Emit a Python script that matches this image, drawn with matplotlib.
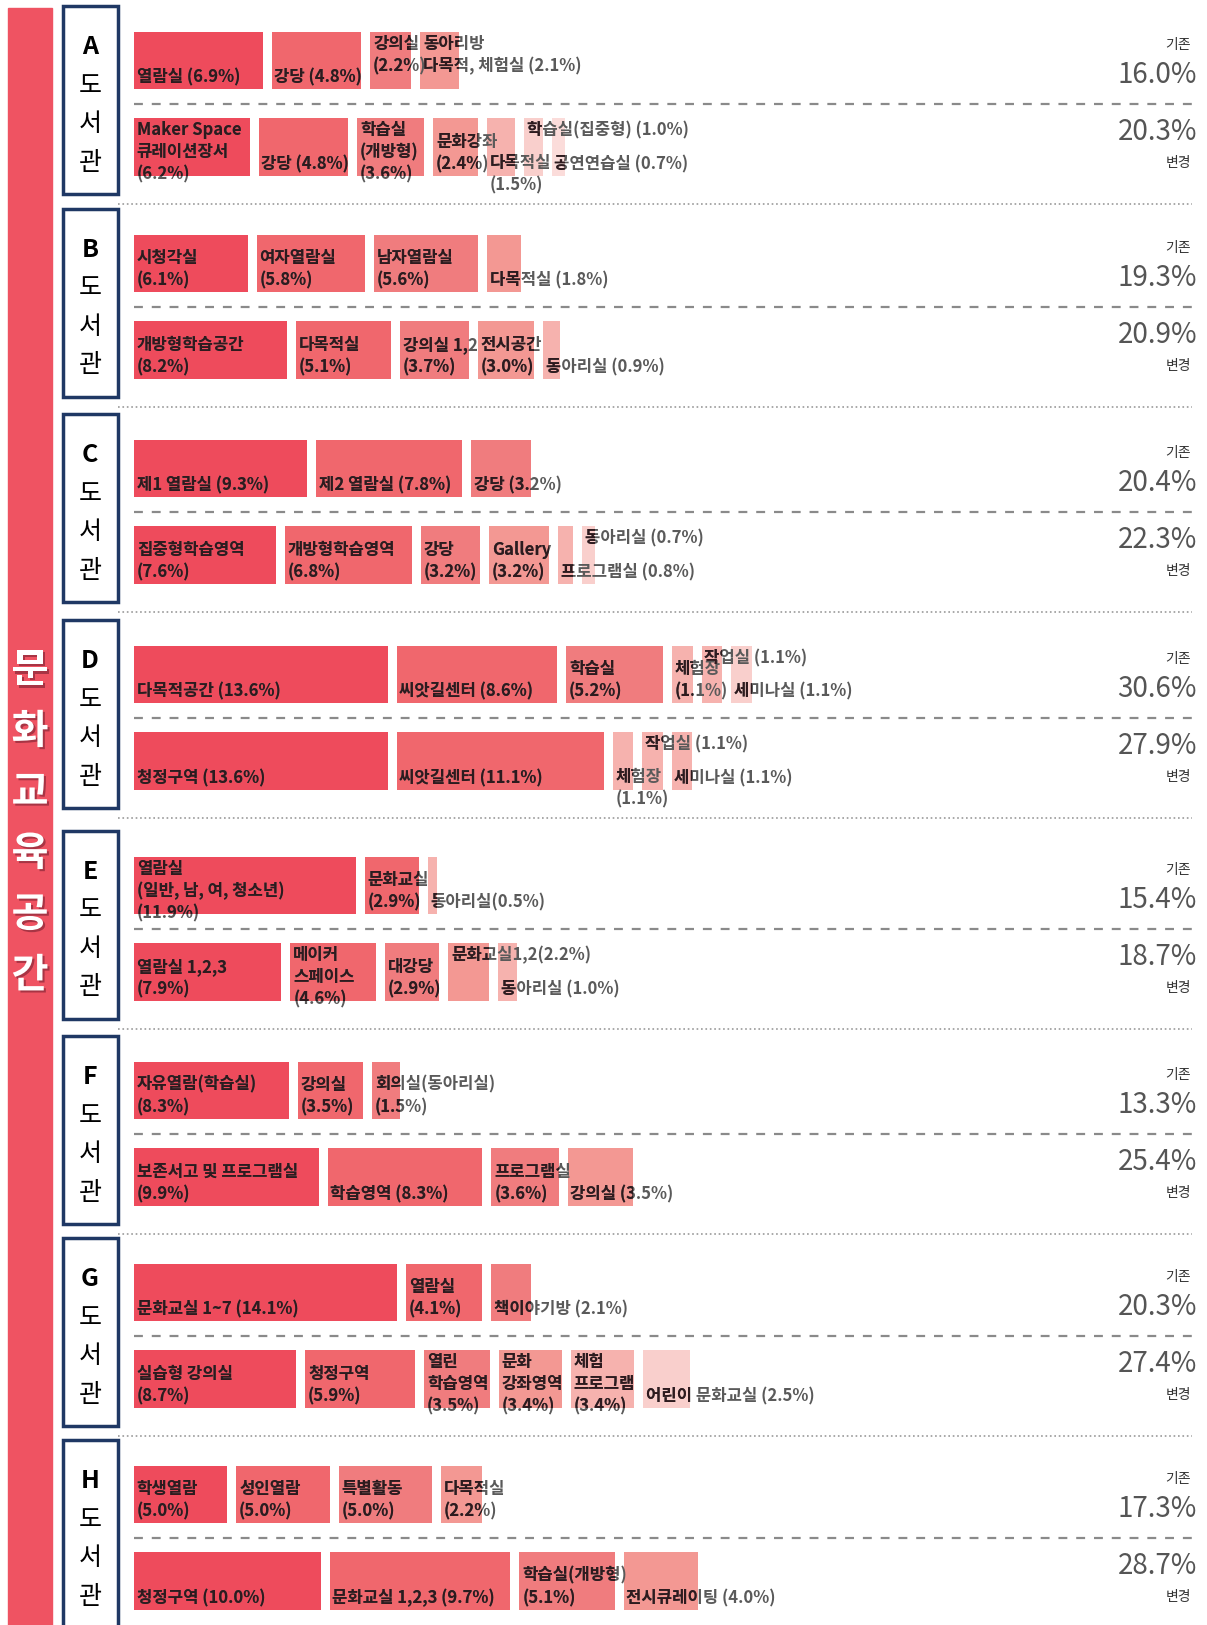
import matplotlib.pyplot as plt
from matplotlib.patches import Rectangle
import matplotlib.patheffects as pe

plt.rcParams['font.family'] = ['Noto Sans CJK KR', 'DejaVu Sans']

# ---- data: share of culture/education space per library (기존 / 변경) ----
libs = ['A', 'B', 'C', 'D', 'E', 'F', 'G', 'H']
old_total = ['16.0%', '19.3%', '20.4%', '30.6%', '15.4%', '13.3%', '20.3%', '17.3%']
new_total = ['20.3%', '20.9%', '22.3%', '27.9%', '18.7%', '25.4%', '27.4%', '28.7%']

a_old_rooms = ['열람실 (6.9%)', '강당 (4.8%)', '강의실\n(2.2%)', '동아리방\n다목적, 체험실 (2.1%)']
a_old_share = [6.9, 4.8, 2.2, 2.1]
a_new_rooms = ['Maker Space\n큐레이션장서\n(6.2%)', '강당 (4.8%)', '학습실\n(개방형)\n(3.6%)',
               '문화강좌\n(2.4%)', '다목적실\n(1.5%)', '학습실(집중형) (1.0%)', '공연연습실 (0.7%)']
a_new_share = [6.2, 4.8, 3.6, 2.4, 1.5, 1.0, 0.7]

b_old_rooms = ['시청각실\n(6.1%)', '여자열람실\n(5.8%)', '남자열람실\n(5.6%)', '다목적실 (1.8%)']
b_old_share = [6.1, 5.8, 5.6, 1.8]
b_new_rooms = ['개방형학습공간\n(8.2%)', '다목적실\n(5.1%)', '강의실 1,2\n(3.7%)', '전시공간\n(3.0%)',
               '동아리실 (0.9%)']
b_new_share = [8.2, 5.1, 3.7, 3.0, 0.9]

c_old_rooms = ['제1 열람실 (9.3%)', '제2 열람실 (7.8%)', '강당 (3.2%)']
c_old_share = [9.3, 7.8, 3.2]
c_new_rooms = ['집중형학습영역\n(7.6%)', '개방형학습영역\n(6.8%)', '강당\n(3.2%)', 'Gallery\n(3.2%)',
               '프로그램실 (0.8%)', '동아리실 (0.7%)']
c_new_share = [7.6, 6.8, 3.2, 3.2, 0.8, 0.7]

d_old_rooms = ['다목적공간 (13.6%)', '씨앗길센터 (8.6%)', '학습실\n(5.2%)', '체험장\n(1.1%)',
               '작업실 (1.1%)', '세미나실 (1.1%)']
d_old_share = [13.6, 8.6, 5.2, 1.1, 1.1, 1.1]
d_new_rooms = ['청정구역 (13.6%)', '씨앗길센터 (11.1%)', '체험장\n(1.1%)', '작업실 (1.1%)',
               '세미나실 (1.1%)']
d_new_share = [13.6, 11.1, 1.1, 1.1, 1.1]

e_old_rooms = ['열람실\n(일반, 남, 여, 청소년)\n(11.9%)', '문화교실\n(2.9%)', '동아리실(0.5%)']
e_old_share = [11.9, 2.9, 0.5]
e_new_rooms = ['열람실 1,2,3\n(7.9%)', '메이커\n스페이스\n(4.6%)', '대강당\n(2.9%)',
               '문화교실1,2(2.2%)', '동아리실 (1.0%)']
e_new_share = [7.9, 4.6, 2.9, 2.2, 1.0]

f_old_rooms = ['자유열람(학습실)\n(8.3%)', '강의실\n(3.5%)', '회의실(동아리실)\n(1.5%)']
f_old_share = [8.3, 3.5, 1.5]
f_new_rooms = ['보존서고 및 프로그램실\n(9.9%)', '학습영역 (8.3%)', '프로그램실\n(3.6%)', '강의실 (3.5%)']
f_new_share = [9.9, 8.3, 3.6, 3.5]

g_old_rooms = ['문화교실 1~7 (14.1%)', '열람실\n(4.1%)', '책이야기방 (2.1%)']
g_old_share = [14.1, 4.1, 2.1]
g_new_rooms = ['실습형 강의실\n(8.7%)', '청정구역\n(5.9%)', '열린\n학습영역\n(3.5%)',
               '문화\n강좌영역\n(3.4%)', '체험\n프로그램\n(3.4%)', '어린이 문화교실 (2.5%)']
g_new_share = [8.7, 5.9, 3.5, 3.4, 3.4, 2.5]

h_old_rooms = ['학생열람\n(5.0%)', '성인열람\n(5.0%)', '특별활동\n(5.0%)', '다목적실\n(2.2%)']
h_old_share = [5.0, 5.0, 5.0, 2.2]
h_new_rooms = ['청정구역 (10.0%)', '문화교실 1,2,3 (9.7%)', '학습실(개방형)\n(5.1%)', '전시큐레이팅 (4.0%)']
h_new_share = [10.0, 9.7, 5.1, 4.0]

rows = {
    'A': ((a_old_rooms, a_old_share), (a_new_rooms, a_new_share)),
    'B': ((b_old_rooms, b_old_share), (b_new_rooms, b_new_share)),
    'C': ((c_old_rooms, c_old_share), (c_new_rooms, c_new_share)),
    'D': ((d_old_rooms, d_old_share), (d_new_rooms, d_new_share)),
    'E': ((e_old_rooms, e_old_share), (e_new_rooms, e_new_share)),
    'F': ((f_old_rooms, f_old_share), (f_new_rooms, f_new_share)),
    'G': ((g_old_rooms, g_old_share), (g_new_rooms, g_new_share)),
    'H': ((h_old_rooms, h_old_share), (h_new_rooms, h_new_share)),
}

# labels hung from the top of the bar instead of sitting on its bottom
top_labels = {('A', 0): [2, 3], ('A', 1): [5], ('C', 1): [5],
              ('D', 0): [4], ('D', 1): [3], ('E', 1): [3]}
# labels that hang one line below the bar
low_labels = {('A', 1): [4], ('D', 1): [2]}

# ---- layout (pixels) ----
W, H = 1207, 1625
sec_top = [6, 209, 414, 620, 831, 1036, 1238, 1440]
PX_PER_PCT = 18.65
BAR_X0 = 134
GAP_PX = 9
row_top = [26, 112]     # bar top inside a section
row_h = [57, 58]
LINE_PX = 21
palette = ['#EE4B5C', '#F0676D', '#F07C7E', '#F39893', '#F6B2AE', '#F9CFCC', '#FBDCDA']
txt_dark = '#2E1A1E'
txt_out = '#5a5a5a'

fig = plt.figure(figsize=(W / 100, H / 100), dpi=100)
bg = fig.add_axes([0, 0, 1, 1])
bg.set_xlim(0, W)
bg.set_ylim(H, 0)
bg.axis('off')

# left vertical band
bg.add_patch(Rectangle((8, 8), 44, H, color='#EF5362', zorder=1))
for i, ch in enumerate('문화교육공간'):
    bg.text(30, 671 + i * 61, ch, color='white', fontsize=29, fontweight='bold',
            ha='center', va='center', zorder=3,
            path_effects=[pe.withSimplePatchShadow(offset=(1.5, -1.5), shadow_rgbFace='#7a2030', alpha=0.6)])

for k, lib in enumerate(libs):
    s = sec_top[k]
    # library name box
    bg.add_patch(Rectangle((63, s), 55, 188, facecolor='white', edgecolor='#1F3864', lw=2.5, zorder=2))
    for i, ch in enumerate(lib + '도서관'):
        bg.text(90, s + 41 + i * 38.5, ch, fontsize=18, fontweight='bold' if i == 0 else 'normal',
                ha='center', va='center', color='black', zorder=3)
    # dashed divider between 기존 and 변경
    bg.plot([134, 1192], [s + 98, s + 98], color='#8a8a8a', lw=1.6, ls=(0, (4, 4)), zorder=1)
    # dotted separator under the section
    bg.plot([118, 1192], [s + 198, s + 198], color='#9a9a9a', lw=1.2, ls=':', zorder=1)
    # right-hand totals
    bg.text(1191, s + 39, '기존', fontsize=10, ha='right', va='center', color='#333333')
    bg.text(1197, s + 69, old_total[k], fontsize=20, ha='right', va='center', color='#555555')
    bg.text(1197, s + 126, new_total[k], fontsize=20, ha='right', va='center', color='#555555')
    bg.text(1191, s + 157, '변경', fontsize=10, ha='right', va='center', color='#333333')

    # bars: x in percent units, y in local pixels
    ax = fig.add_axes([BAR_X0 / W, 1 - (s + 200) / H, (W - BAR_X0) / W, 200 / H])
    ax.set_xlim(0, (W - BAR_X0) / PX_PER_PCT)
    ax.set_ylim(200, 0)
    ax.axis('off')
    gap = GAP_PX / PX_PER_PCT
    for r, (rooms, share) in enumerate(rows[lib]):
        lefts = []
        acc = 0.0
        for v in share:
            lefts.append(acc)
            acc += v + gap
        order = sorted(range(len(share)), key=lambda j: -share[j])
        cols = [None] * len(share)
        for rank, j in enumerate(order):
            idx = rank
            if share[j] <= 1.2:
                idx = max(idx, 4)
            cols[j] = palette[min(idx, len(palette) - 1)]
        y0 = row_top[r]
        hh = row_h[r]
        bars = ax.barh([y0 + hh / 2] * len(share), share, left=lefts, height=hh,
                       color=cols, edgecolor='none', zorder=2)
        tops = top_labels.get((lib, r), [])
        lows = low_labels.get((lib, r), [])
        for j, (lab, patch) in enumerate(zip(rooms, bars.patches)):
            nlines = lab.count('\n') + 1
            if j in tops or nlines >= 3:
                ty, va = y0 + 3, 'top'
            else:
                ty, va = y0 + hh - 3, 'bottom'
                if j in lows:
                    ty += LINE_PX
            kw = dict(fontsize=12, fontweight='bold', ha='left', va=va, linespacing=1.3)
            ax.text(lefts[j] + 0.15, ty, lab, color=txt_out, zorder=3, **kw)
            t = ax.text(lefts[j] + 0.15, ty, lab, color=txt_dark, zorder=4, clip_on=True, **kw)
            t.set_clip_path(patch)

fig.savefig('out.png', dpi=100)
